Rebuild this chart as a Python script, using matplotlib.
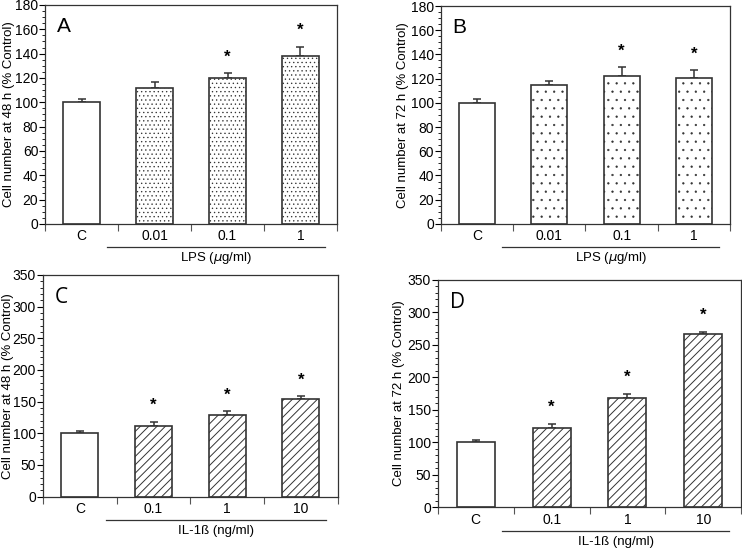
import numpy as np
import matplotlib
matplotlib.use('Agg')
from matplotlib import pyplot as plt
from matplotlib.ticker import MultipleLocator

plt.rcParams['font.family'] = ['Liberation Sans', 'DejaVu Sans']
plt.rcParams['hatch.color'] = '#555555'

# data
lps_labels = ['C', '0.01', '0.1', '1']
il_labels = ['C', '0.1', '1', '10']

lps_48 = [100, 111.5, 120.3, 138]
lps_48_err = [3, 5, 3.5, 7.5]
lps_48_sig = [False, False, True, True]

lps_72 = [99.7, 114.5, 122.5, 120.3]
lps_72_err = [3.5, 3.5, 7, 6.5]
lps_72_sig = [False, False, True, True]

il_48 = [100, 112.3, 128.5, 154]
il_48_err = [3, 5.5, 6, 4.5]
il_48_sig = [False, True, True, True]

il_72 = [100, 122, 168.5, 266.5]
il_72_err = [3, 6.5, 5.5, 4]
il_72_sig = [False, True, True, True]

fig = plt.figure(figsize=(7.42, 5.5), dpi=100)
W, H = 742, 550

panels = [
    # rect, letter, labels, vals, errs, sig, ylabel, ymax, major, minor, hatch, hatch lw, group, label x px
    ([0.061, 0.593, 0.393, 0.398], 'A', lps_labels, lps_48, lps_48_err, lps_48_sig,
     'Cell number at 48 h (% Control)', 180, 20, 5, '....', 0.45, 'LPS ($\\mu$g/ml)', 15),
    ([0.594, 0.593, 0.390, 0.396], 'B', lps_labels, lps_72, lps_72_err, lps_72_sig,
     'Cell number at 72 h (% Control)', 180, 20, 5, '..', 0.4, 'LPS ($\\mu$g/ml)', 409),
    ([0.058, 0.097, 0.397, 0.403], 'C', il_labels, il_48, il_48_err, il_48_sig,
     'Cell number at 48 h (% Control)', 350, 50, 10, '////', 0.7, 'IL-1ß (ng/ml)', 14),
    ([0.590, 0.078, 0.409, 0.413], 'D', il_labels, il_72, il_72_err, il_72_sig,
     'Cell number at 72 h (% Control)', 350, 50, 10, '////', 0.7, 'IL-1ß (ng/ml)', 405),
]

for rect, letter, labels, vals, errs, sig, ylabel, ymax, major, minor, hatch, hlw, group, lx in panels:
    ax = fig.add_axes(rect)
    x = np.arange(len(vals))
    hatches = [''] + [hatch] * (len(vals) - 1)
    with plt.rc_context({'hatch.linewidth': hlw}):
        ax.bar(x, vals, width=0.5, color='white', edgecolor='#333333',
               linewidth=1.2, hatch=hatches, zorder=2)
    ax.errorbar(x, vals, yerr=[np.zeros(len(errs)), errs], fmt='none',
                ecolor='#333333', elinewidth=1.1, capsize=3, capthick=1.1, zorder=1)
    for xi, v, e, s in zip(x, vals, errs, sig):
        if s:
            ax.text(xi, v + e + ymax * 0.04, '*', ha='center', va='bottom',
                    fontsize=12, fontweight='bold')
    ax.set_xlim(-0.5, len(vals) - 0.5)
    ax.set_ylim(0, ymax)
    ax.yaxis.set_major_locator(MultipleLocator(major))
    ax.yaxis.set_minor_locator(MultipleLocator(minor))
    ax.set_xticks(np.arange(-0.5, len(vals)))
    ax.set_xticklabels([])
    ax.tick_params(axis='x', direction='out', length=5, width=0.8, color='#555555')
    ax.tick_params(axis='y', which='major', direction='out', length=4, width=0.8,
                   labelsize=10, pad=1)
    ax.tick_params(axis='y', which='minor', direction='out', length=2, width=0.6)
    for xi, lab in zip(x, labels):
        ax.text(xi, -0.055, lab, transform=ax.get_xaxis_transform(), ha='center',
                va='center', fontsize=10)
    ax.plot([0.35, len(vals) - 0.66], [-0.105, -0.105], transform=ax.get_xaxis_transform(),
            color='#333333', lw=0.9, clip_on=False)
    ax.text(1.85, -0.155, group, transform=ax.get_xaxis_transform(), ha='center',
            va='center', fontsize=9.5)
    ax.set_ylabel(ylabel, fontsize=9.5)
    ax.yaxis.set_label_coords((lx - rect[0] * W) / (rect[2] * W), 0.5)
    fam = ['Liberation Sans', 'DejaVu Sans'] if letter in 'AB' else ['Open Sans', 'DejaVu Sans']
    ax.text(0.04, 0.9, letter, transform=ax.transAxes, fontsize=15, va='center', family=fam)
    for sp in ax.spines.values():
        sp.set_linewidth(0.9)
        sp.set_color('#333333')

fig.savefig('out.png', dpi=100)
